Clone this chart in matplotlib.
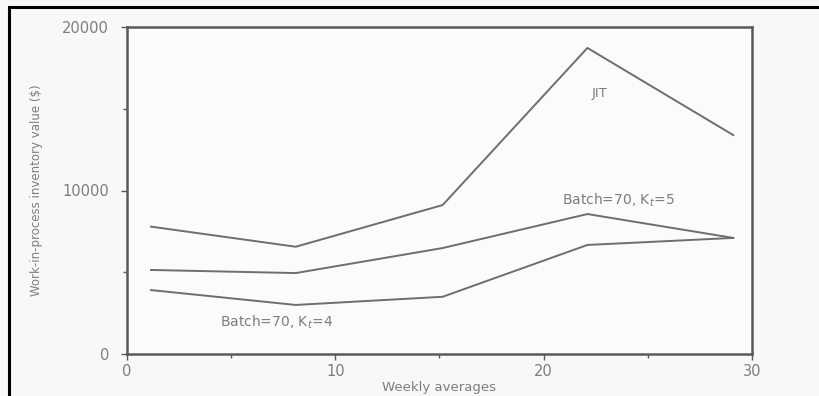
import matplotlib
matplotlib.use('Agg')
import matplotlib.pyplot as plt
from matplotlib.patches import Rectangle
from matplotlib.ticker import MultipleLocator

plt.rcParams['font.family'] = 'DejaVu Sans'

# weekly averages (x) and WIP inventory value ($)
weeks = [1.15, 8.1, 15.15, 22.1, 29.1]
jit = [7790, 6560, 9110, 18720, 13390]
batch_k5 = [5140, 4950, 6480, 8560, 7100]
batch_k4 = [3910, 3000, 3500, 6670, 7100]

LINE = '#6e6e6e'
AXIS = '#5a5a5a'
TEXT = '#7d7d7d'
BG = '#f8f8f8'

fig = plt.figure(figsize=(8.2, 3.96), dpi=100, facecolor=BG)
ax = fig.add_axes([127/820, 1 - 354/396, (752 - 127)/820, (354 - 27)/396])
ax.set_facecolor('#fbfbfb')

for ys in (jit, batch_k5, batch_k4):
    ax.plot(weeks, ys, color=LINE, lw=1.4)

ax.set_xlim(0, 30)
ax.set_ylim(0, 20000)
ax.xaxis.set_major_locator(MultipleLocator(10))
ax.xaxis.set_minor_locator(MultipleLocator(5))
ax.yaxis.set_major_locator(MultipleLocator(10000))
ax.yaxis.set_minor_locator(MultipleLocator(5000))
ax.tick_params(which='both', direction='out', color=AXIS, width=1.0)
ax.tick_params(which='major', length=4, labelsize=10.5, labelcolor=TEXT)
ax.tick_params(which='minor', length=3)
ax.tick_params(axis='y', pad=9)
ax.tick_params(axis='x', pad=3)
for s in ax.spines.values():
    s.set_color(AXIS)
    s.set_linewidth(1.8)

ax.set_xlabel('Weekly averages', fontsize=9.5, color=TEXT, labelpad=2)
ax.set_ylabel('Work-in-process inventory value ($)', fontsize=8.5, color=TEXT, labelpad=14)

ax.text(22.7, 15960, 'JIT', fontsize=9.5, color=TEXT, ha='center', va='center')
ax.text(23.6, 9420, 'Batch=70, K$_t$=5', fontsize=10, color=TEXT, ha='center', va='center')
ax.text(7.2, 1960, 'Batch=70, K$_t$=4', fontsize=10, color=TEXT, ha='center', va='center')

# black frame of the scanned page (right and bottom edges run off the image)
fig.patches.append(Rectangle((9/820, -0.05), 1.1, 1 - 7/396 + 0.05,
                             transform=fig.transFigure, fill=False,
                             edgecolor='black', linewidth=2.2))

fig.savefig('out.png', dpi=100, facecolor=BG)
